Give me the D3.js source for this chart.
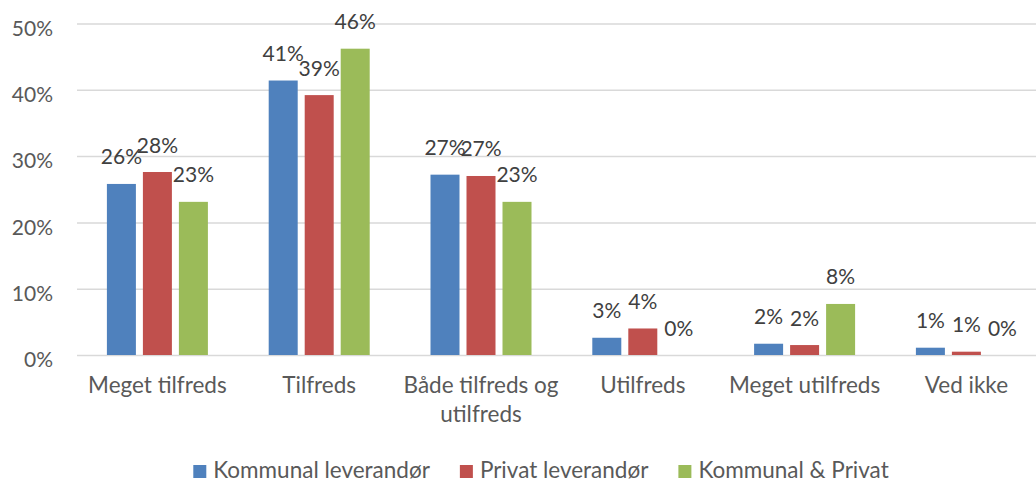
<!DOCTYPE html>
<html>
<head>
<meta charset="utf-8">
<script src="https://cdn.jsdelivr.net/npm/d3@7"></script>
<style>
  body { margin: 0; background: #fff; }
  svg { display: block; font-family: Lato, "Open Sans", sans-serif; }
</style>
</head>
<body>
<script>
// categories on the x axis
var categories = ["Meget tilfreds", "Tilfreds", "Både tilfreds og utilfreds", "Utilfreds", "Meget utilfreds", "Ved ikke"];
// series names (legend)
var seriesNames = ["Kommunal leverandør", "Privat leverandør", "Kommunal & Privat"];
// values in percent
var kommunal = [25.8, 41.4, 27.2, 2.6, 1.7, 1.1];
var privat = [27.6, 39.2, 27.0, 4.0, 1.5, 0.5];
var begge = [23.1, 46.2, 23.1, 0, 7.7, 0];
var yTicks = [0, 10, 20, 30, 40, 50];

var colors = ["#4F81BD", "#C0504D", "#9BBB59"];
var width = 1036, height = 481;
var numSize = "21px", textSize = "22.5px";

var svg = d3.select("body").append("svg").attr("width", width).attr("height", height);

// build rows for drawing
var seriesValues = [kommunal, privat, begge];
var rows = categories.map(function(c, i) {
  return { cat: c, vals: seriesValues.map(function(s, j) { return { name: seriesNames[j], v: s[i], idx: j }; }) };
});

var x0 = d3.scaleBand().domain(categories).range([76.5, 76.5 + 6 * 161.8]).padding(0);
var x1 = d3.scaleBand().domain(seriesNames).range([0, 101]).paddingInner(7 / 36).paddingOuter(0);
var y = d3.scaleLinear().domain([0, 50]).range([355, 23.5]);

// gridlines
var yAxis = d3.axisLeft(y).tickValues(yTicks).tickSize(-(width - 77)).tickFormat(function(d) { return d + "%"; });
var ga = svg.append("g").attr("transform", "translate(77,0)").call(yAxis);
ga.select(".domain").remove();
ga.selectAll(".tick line").attr("stroke", "#d9d9d9").attr("stroke-width", 1.5);
ga.selectAll(".tick text")
  .attr("x", -24).attr("dy", "0.32em").attr("y", 5)
  .attr("fill", "#595959").style("font-size", numSize).style("font-family", "Lato, 'Open Sans', sans-serif");

// bars
var groups = svg.selectAll(".grp").data(rows).enter().append("g")
  .attr("class", "grp")
  .attr("transform", function(d) { return "translate(" + (x0(d.cat) + (x0.bandwidth() - 101) / 2) + ",0)"; });

groups.selectAll("rect").data(function(d) { return d.vals; }).enter().append("rect")
  .attr("x", function(d) { return x1(d.name); })
  .attr("width", x1.bandwidth())
  .attr("y", function(d) { return y(d.v); })
  .attr("height", function(d) { return y(0) - y(d.v); })
  .attr("fill", function(d) { return colors[d.idx]; });

groups.selectAll("text.lbl").data(function(d) { return d.vals; }).enter().append("text")
  .attr("class", "lbl")
  .attr("x", function(d) { return x1(d.name) + x1.bandwidth() / 2; })
  .attr("y", function(d) { return y(d.v) - 19.5; })
  .attr("text-anchor", "middle")
  .attr("fill", "#404040")
  .style("font-size", numSize)
  .text(function(d) { return Math.round(d.v) + "%"; });

// category labels with wrapping
var xAxis = svg.append("g");
categories.forEach(function(c) {
  var t = xAxis.append("text")
    .attr("x", x0(c) + x0.bandwidth() / 2)
    .attr("y", 393)
    .attr("text-anchor", "middle")
    .attr("fill", "#595959")
    .style("font-size", textSize);
  var words = c.split(" "), line = [];
  var ts = t.append("tspan").attr("x", x0(c) + x0.bandwidth() / 2).attr("dy", 0);
  words.forEach(function(w) {
    line.push(w);
    ts.text(line.join(" "));
    if (ts.node().getComputedTextLength() > 160 && line.length > 1) {
      line.pop();
      ts.text(line.join(" "));
      line = [w];
      ts = t.append("tspan").attr("x", x0(c) + x0.bandwidth() / 2).attr("dy", 29).text(w);
    }
  });
});

// legend
var legend = svg.append("g");
var lx = 0;
seriesNames.forEach(function(s, i) {
  var item = legend.append("g").attr("transform", "translate(" + lx + ",0)");
  item.append("rect").attr("x", 0).attr("y", 465).attr("width", 13).attr("height", 13).attr("fill", colors[i]);
  var tx = item.append("text").attr("x", 20).attr("y", 478)
    .attr("fill", "#595959").style("font-size", textSize).text(s);
  lx += 20 + tx.node().getComputedTextLength() + 30;
});
var legW = lx - 30;
legend.attr("transform", "translate(" + (541 - legW / 2) + ",0)");
</script>
</body>
</html>
